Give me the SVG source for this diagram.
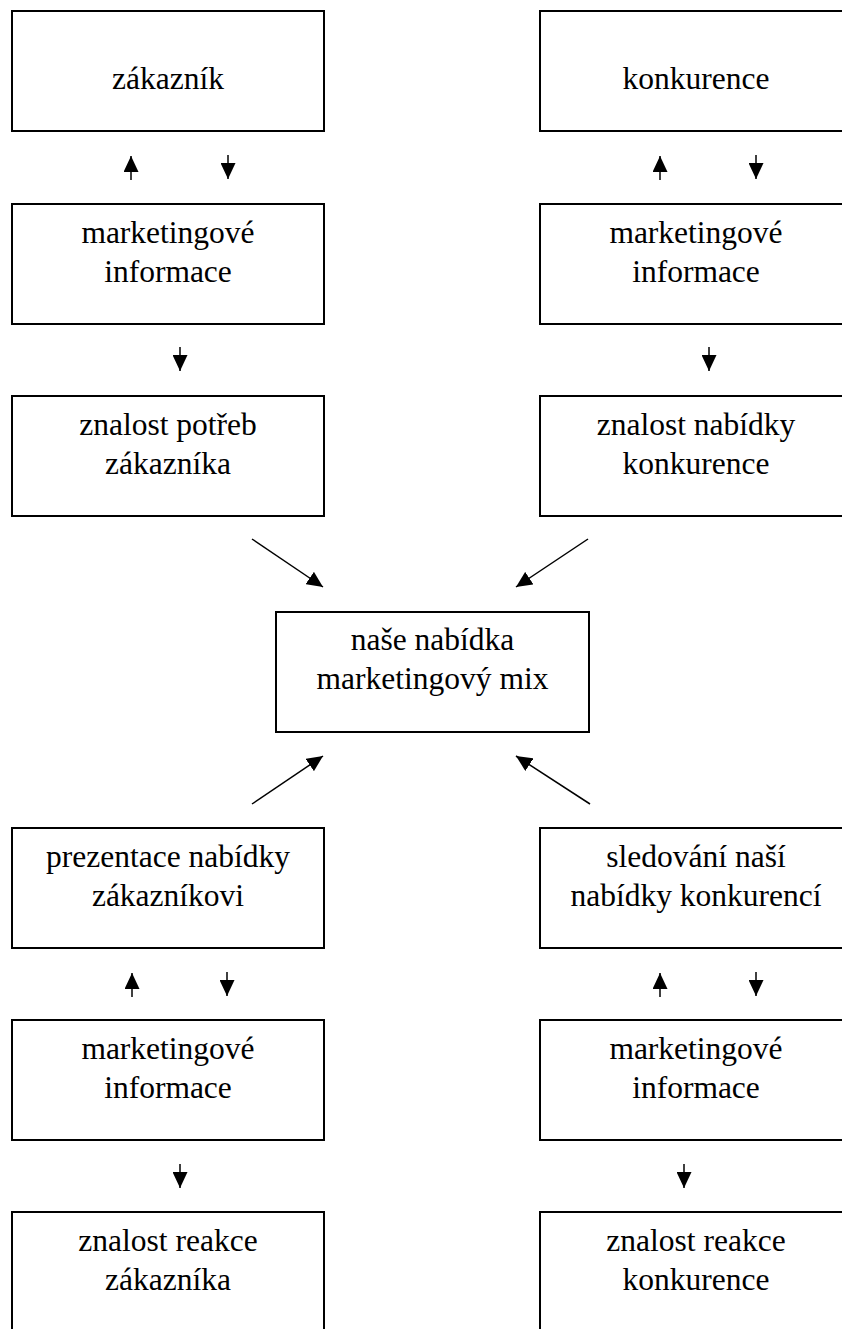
<svg xmlns="http://www.w3.org/2000/svg" width="842" height="1329" viewBox="0 0 842 1329">
<style>
.box{fill:#fff;stroke:#000;stroke-width:2}
.t{font-family:'Liberation Serif','Times New Roman','DejaVu Serif',serif;font-size:31.5px;fill:#000;text-anchor:middle}
.c{stroke:#000;stroke-width:1.5;fill:none;marker-end:url(#ah)}
</style>
<defs>
<marker id="ah" markerUnits="userSpaceOnUse" markerWidth="16" markerHeight="15" refX="16" refY="7.5" orient="auto">
<path d="M0,0 L16,7.5 L0,15 z" fill="#000"/>
</marker>
</defs>
<rect width="842" height="1329" fill="#fff"/>
<g id="zakaznik"><rect class="box" x="12" y="11" width="312" height="120"/><text class="t" x="168" y="89">zákazník</text></g>
<g id="konkurence"><rect class="box" x="540" y="11" width="312" height="120"/><text class="t" x="696" y="89">konkurence</text></g>
<g id="mi1"><rect class="box" x="12" y="204" width="312" height="120"/><text class="t" x="168" y="243">marketingové<tspan x="168" dy="38.5">informace</tspan></text></g>
<g id="mi2"><rect class="box" x="540" y="204" width="312" height="120"/><text class="t" x="696" y="243">marketingové<tspan x="696" dy="38.5">informace</tspan></text></g>
<g id="znalost-potreb"><rect class="box" x="12" y="396" width="312" height="120"/><text class="t" x="168" y="435">znalost potřeb<tspan x="168" dy="38.5">zákazníka</tspan></text></g>
<g id="znalost-nabidky"><rect class="box" x="540" y="396" width="312" height="120"/><text class="t" x="696" y="435">znalost nabídky<tspan x="696" dy="38.5">konkurence</tspan></text></g>
<g id="nase-nabidka"><rect class="box" x="276" y="612" width="313" height="120"/><text class="t" x="432.5" y="650">naše nabídka<tspan x="432.5" dy="38.5">marketingový mix</tspan></text></g>
<g id="prezentace"><rect class="box" x="12" y="828" width="312" height="120"/><text class="t" x="168" y="867">prezentace nabídky<tspan x="168" dy="38.5">zákazníkovi</tspan></text></g>
<g id="sledovani"><rect class="box" x="540" y="828" width="312" height="120"/><text class="t" x="696" y="867">sledování naší<tspan x="696" dy="38.5">nabídky konkurencí</tspan></text></g>
<g id="mi3"><rect class="box" x="12" y="1020" width="312" height="120"/><text class="t" x="168" y="1059">marketingové<tspan x="168" dy="38.5">informace</tspan></text></g>
<g id="mi4"><rect class="box" x="540" y="1020" width="312" height="120"/><text class="t" x="696" y="1059">marketingové<tspan x="696" dy="38.5">informace</tspan></text></g>
<g id="reakce-zakaznika"><rect class="box" x="12" y="1212" width="312" height="130"/><text class="t" x="168" y="1251">znalost reakce<tspan x="168" dy="38.5">zákazníka</tspan></text></g>
<g id="reakce-konkurence"><rect class="box" x="540" y="1212" width="312" height="130"/><text class="t" x="696" y="1251">znalost reakce<tspan x="696" dy="38.5">konkurence</tspan></text></g>
<g id="connectors">
<line class="c" x1="131" y1="180" x2="131" y2="156"/>
<line class="c" x1="228" y1="155" x2="228" y2="179"/>
<line class="c" x1="660" y1="180" x2="660" y2="156"/>
<line class="c" x1="756" y1="155" x2="756" y2="179"/>
<line class="c" x1="180" y1="347" x2="180" y2="371"/>
<line class="c" x1="709" y1="347" x2="709" y2="371"/>
<line class="c" x1="252" y1="539" x2="323" y2="587"/>
<line class="c" x1="588" y1="539" x2="516" y2="587"/>
<line class="c" x1="252" y1="804" x2="323" y2="756"/>
<line class="c" x1="590" y1="804" x2="516" y2="756"/>
<line class="c" x1="132" y1="997" x2="132" y2="973"/>
<line class="c" x1="227" y1="972" x2="227" y2="996"/>
<line class="c" x1="660" y1="997" x2="660" y2="973"/>
<line class="c" x1="756" y1="972" x2="756" y2="996"/>
<line class="c" x1="180" y1="1164" x2="180" y2="1188"/>
<line class="c" x1="684" y1="1164" x2="684" y2="1188"/>
</g>
</svg>
